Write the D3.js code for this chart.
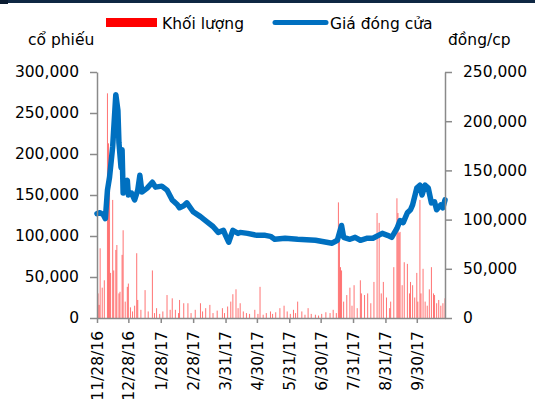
<!DOCTYPE html>
<html>
<head>
<meta charset="utf-8">
<script src="https://cdn.jsdelivr.net/npm/d3@7"></script>
<style>
  html, body { margin: 0; padding: 0; background: #fff; }
  svg { display: block; font-family: "DejaVu Sans", Verdana, sans-serif; }
</style>
</head>
<body>
<svg id="chart" width="535" height="407"></svg>
<script>
// Daily closing price (đồng/cp)
const priceDates = [
  "2016-11-28","2016-12-01","2016-12-04","2016-12-06","2016-12-08","2016-12-10","2016-12-13",
  "2016-12-16","2016-12-18","2016-12-19","2016-12-21","2016-12-22","2016-12-23","2016-12-27",
  "2016-12-28","2016-12-31","2017-01-03","2017-01-06","2017-01-08","2017-01-10","2017-01-15",
  "2017-01-20","2017-01-23","2017-01-29","2017-02-03","2017-02-08","2017-02-13","2017-02-15",
  "2017-02-19","2017-02-22","2017-02-28","2017-03-07","2017-03-13","2017-03-19","2017-03-24",
  "2017-03-29","2017-03-31","2017-04-03","2017-04-07","2017-04-12","2017-04-14","2017-04-21",
  "2017-04-30","2017-05-08","2017-05-13","2017-05-17","2017-05-27","2017-06-08","2017-06-25",
  "2017-07-11","2017-07-16","2017-07-20","2017-07-22","2017-07-28","2017-08-02","2017-08-07",
  "2017-08-13","2017-08-19","2017-08-28","2017-09-02","2017-09-06","2017-09-11","2017-09-14",
  "2017-09-17","2017-09-21","2017-09-24","2017-09-26","2017-09-30","2017-10-03","2017-10-05",
  "2017-10-08","2017-10-11","2017-10-14","2017-10-17","2017-10-19","2017-10-23","2017-10-25",
  "2017-10-27"
];
const priceValues = [
  106000,107000,105000,101000,130000,143000,174000,
  227000,211000,178000,153000,171000,127000,140000,
  125000,127000,120000,130000,145000,128000,132000,
  138000,133000,134000,130000,120000,115000,112000,
  114000,117000,108000,103000,98000,93000,87000,
  89000,84000,77000,89000,86000,87000,86000,
  84000,84000,83000,80000,81000,80000,79000,
  76000,79000,94000,82000,80000,82000,79000,
  81000,81000,86000,84000,82000,91000,99000,
  97000,107000,110000,115000,132000,135000,125000,
  135000,132000,117000,118000,110000,115000,112000,
  120000
];

// Daily trading volume (cổ phiếu)
const volumeDates = [
  "2016-11-29","2016-11-30","2016-12-01","2016-12-03","2016-12-05","2016-12-08","2016-12-09",
  "2016-12-10","2016-12-11","2016-12-13","2016-12-14","2016-12-16","2016-12-17","2016-12-19",
  "2016-12-20","2016-12-22","2016-12-23","2016-12-25","2016-12-27","2016-12-28","2016-12-30",
  "2017-01-01","2017-01-03","2017-01-05","2017-01-06","2017-01-09","2017-01-13","2017-01-16",
  "2017-01-20","2017-01-22","2017-01-24","2017-01-27","2017-01-30","2017-02-03","2017-02-06",
  "2017-02-08","2017-02-11","2017-02-14","2017-02-15","2017-02-19","2017-02-23","2017-02-26",
  "2017-03-02","2017-03-07","2017-03-09","2017-03-12","2017-03-16","2017-03-19","2017-03-23",
  "2017-03-28","2017-03-30","2017-04-02","2017-04-05","2017-04-07","2017-04-10","2017-04-12",
  "2017-04-14","2017-04-17","2017-04-20","2017-04-23","2017-04-28","2017-05-01","2017-05-03",
  "2017-05-06","2017-05-09","2017-05-13","2017-05-15","2017-05-18","2017-05-22","2017-05-26",
  "2017-05-29","2017-06-01","2017-06-04","2017-06-06","2017-06-08","2017-06-12","2017-06-15",
  "2017-06-18","2017-06-21","2017-06-25","2017-06-28","2017-07-01","2017-07-05","2017-07-09",
  "2017-07-12","2017-07-15","2017-07-17","2017-07-18","2017-07-19","2017-07-20","2017-07-22",
  "2017-07-25","2017-07-28","2017-07-30","2017-08-01","2017-08-04","2017-08-07","2017-08-08",
  "2017-08-11","2017-08-14","2017-08-17","2017-08-20","2017-08-23","2017-08-25","2017-08-27",
  "2017-08-29","2017-09-01","2017-09-04","2017-09-05","2017-09-08","2017-09-11","2017-09-12",
  "2017-09-13","2017-09-14","2017-09-16","2017-09-18","2017-09-21","2017-09-23","2017-09-24",
  "2017-09-26","2017-09-28","2017-09-30","2017-10-01","2017-10-03","2017-10-04","2017-10-06",
  "2017-10-08","2017-10-10","2017-10-12","2017-10-14","2017-10-16","2017-10-17","2017-10-19",
  "2017-10-21","2017-10-23","2017-10-25","2017-10-27"
];
const volumeValues = [
  30000,16000,85000,37000,46000,274000,213000,
  168000,55000,144000,58000,83000,89000,30000,
  32000,77000,107000,20000,38000,42000,13000,
  8000,15000,79000,22000,10000,34000,8000,
  58000,6000,12000,5000,8000,28000,10000,
  24000,10000,6000,22000,18000,18000,6000,
  10000,18000,8000,12000,16000,6000,9000,
  12000,6000,14000,20000,29000,35000,12000,
  18000,8000,6000,5000,10000,5000,38000,
  4000,6000,8000,5000,7000,12000,15000,
  8000,5000,10000,6000,20000,8000,4000,
  12000,5000,4000,3000,5000,7000,6000,
  10000,6000,141000,95000,62000,58000,20000,
  28000,37000,15000,40000,12000,46000,30000,
  28000,30000,18000,44000,128000,116000,30000,
  44000,25000,12000,20000,62000,146000,128000,
  104000,105000,40000,68000,66000,30000,44000,
  40000,25000,55000,20000,144000,30000,60000,
  20000,15000,35000,62000,30000,28000,18000,
  22000,15000,18000,24000
];

const xTickDates = ["2016-11-28","2016-12-28","2017-01-28","2017-02-28","2017-03-31","2017-04-30",
                    "2017-05-31","2017-06-30","2017-07-31","2017-08-31","2017-09-30"];
const leftTicks = [0, 50000, 100000, 150000, 200000, 250000, 300000];
const rightTicks = [0, 50000, 100000, 150000, 200000, 250000];

const parse = d3.timeParse("%Y-%m-%d");
const prices = priceDates.map((d, i) => ({ date: parse(d), value: priceValues[i] }));
const volumes = volumeDates.map((d, i) => ({ date: parse(d), value: volumeValues[i] }));

const svg = d3.select("#chart");
const plot = { left: 97, right: 445, top: 72, bottom: 318 };
const axisColor = "#8a8a8a";
const fontSize = 15.5;

// Header band
svg.append("rect").attr("x", 0).attr("y", 0).attr("width", 535).attr("height", 3).attr("fill", "#0e2743");
svg.append("rect").attr("x", 0).attr("y", 0).attr("width", 8).attr("height", 4).attr("fill", "#0a1c31");

const x = d3.scaleTime()
  .domain([parse("2016-11-28"), parse("2017-10-27")])
  .range([plot.left, plot.right]);
const yVol = d3.scaleLinear().domain([0, 300000]).range([plot.bottom, plot.top]);
const yPrice = d3.scaleLinear().domain([0, 250000]).range([plot.bottom, plot.top]);

// Volume bars
svg.append("g").selectAll("rect")
  .data(volumes)
  .join("rect")
  .attr("x", d => x(d.date) - 0.5)
  .attr("width", 1)
  .attr("y", d => yVol(d.value))
  .attr("height", d => plot.bottom - yVol(d.value))
  .attr("fill", "#ff0000")
  .attr("fill-opacity", 0.55);

// Closing price line
svg.append("path")
  .datum(prices)
  .attr("fill", "none")
  .attr("stroke", "#0070c0")
  .attr("stroke-width", 5.5)
  .attr("stroke-linejoin", "round")
  .attr("stroke-linecap", "round")
  .attr("d", d3.line().x(d => x(d.date)).y(d => yPrice(d.value)));

function styleAxis(g) {
  g.select(".domain").attr("stroke", axisColor).attr("stroke-width", 1.5);
  g.selectAll(".tick line").attr("stroke", axisColor).attr("stroke-width", 1.5);
  g.selectAll(".tick text").attr("fill", "#000").style("font-size", fontSize + "px")
    .style("font-family", '"DejaVu Sans", Verdana, sans-serif');
}

const fmt = d3.format(",");

svg.append("g")
  .attr("transform", `translate(${plot.left},0)`)
  .call(d3.axisLeft(yVol).tickValues(leftTicks).tickFormat(fmt).tickSize(7).tickSizeOuter(0).tickPadding(11))
  .call(styleAxis);

svg.append("g")
  .attr("transform", `translate(${plot.right},0)`)
  .call(d3.axisRight(yPrice).tickValues(rightTicks).tickFormat(fmt).tickSize(7).tickSizeOuter(0).tickPadding(11))
  .call(styleAxis);

const xAxis = svg.append("g")
  .attr("transform", `translate(0,${plot.bottom})`)
  .call(d3.axisBottom(x).tickValues(xTickDates.map(parse)).tickFormat(d3.timeFormat("%-m/%-d/%y"))
    .tickSize(5).tickSizeOuter(0))
  .call(styleAxis);
xAxis.selectAll(".tick text")
  .attr("transform", "rotate(-90)")
  .attr("text-anchor", "end")
  .attr("x", -13)
  .attr("y", 0)
  .attr("dy", "0.35em");

// Axis titles
svg.append("text").attr("x", 28).attr("y", 45).text("cổ phiếu")
  .style("font-size", fontSize + "px").attr("fill", "#000");
svg.append("text").attr("x", 448).attr("y", 45).text("đồng/cp")
  .style("font-size", fontSize + "px").attr("fill", "#000");

// Legend
const legend = svg.append("g");
legend.append("rect").attr("x", 106).attr("y", 18).attr("width", 51).attr("height", 9).attr("fill", "#ff0000");
legend.append("text").attr("x", 162).attr("y", 29).text("Khối lượng")
  .style("font-size", fontSize + "px").attr("fill", "#000");
legend.append("line").attr("x1", 275).attr("x2", 326).attr("y1", 22.5).attr("y2", 22.5)
  .attr("stroke", "#0070c0").attr("stroke-width", 5).attr("stroke-linecap", "round");
legend.append("text").attr("x", 330).attr("y", 29).text("Giá đóng cửa")
  .style("font-size", fontSize + "px").attr("fill", "#000");
</script>
</body>
</html>
